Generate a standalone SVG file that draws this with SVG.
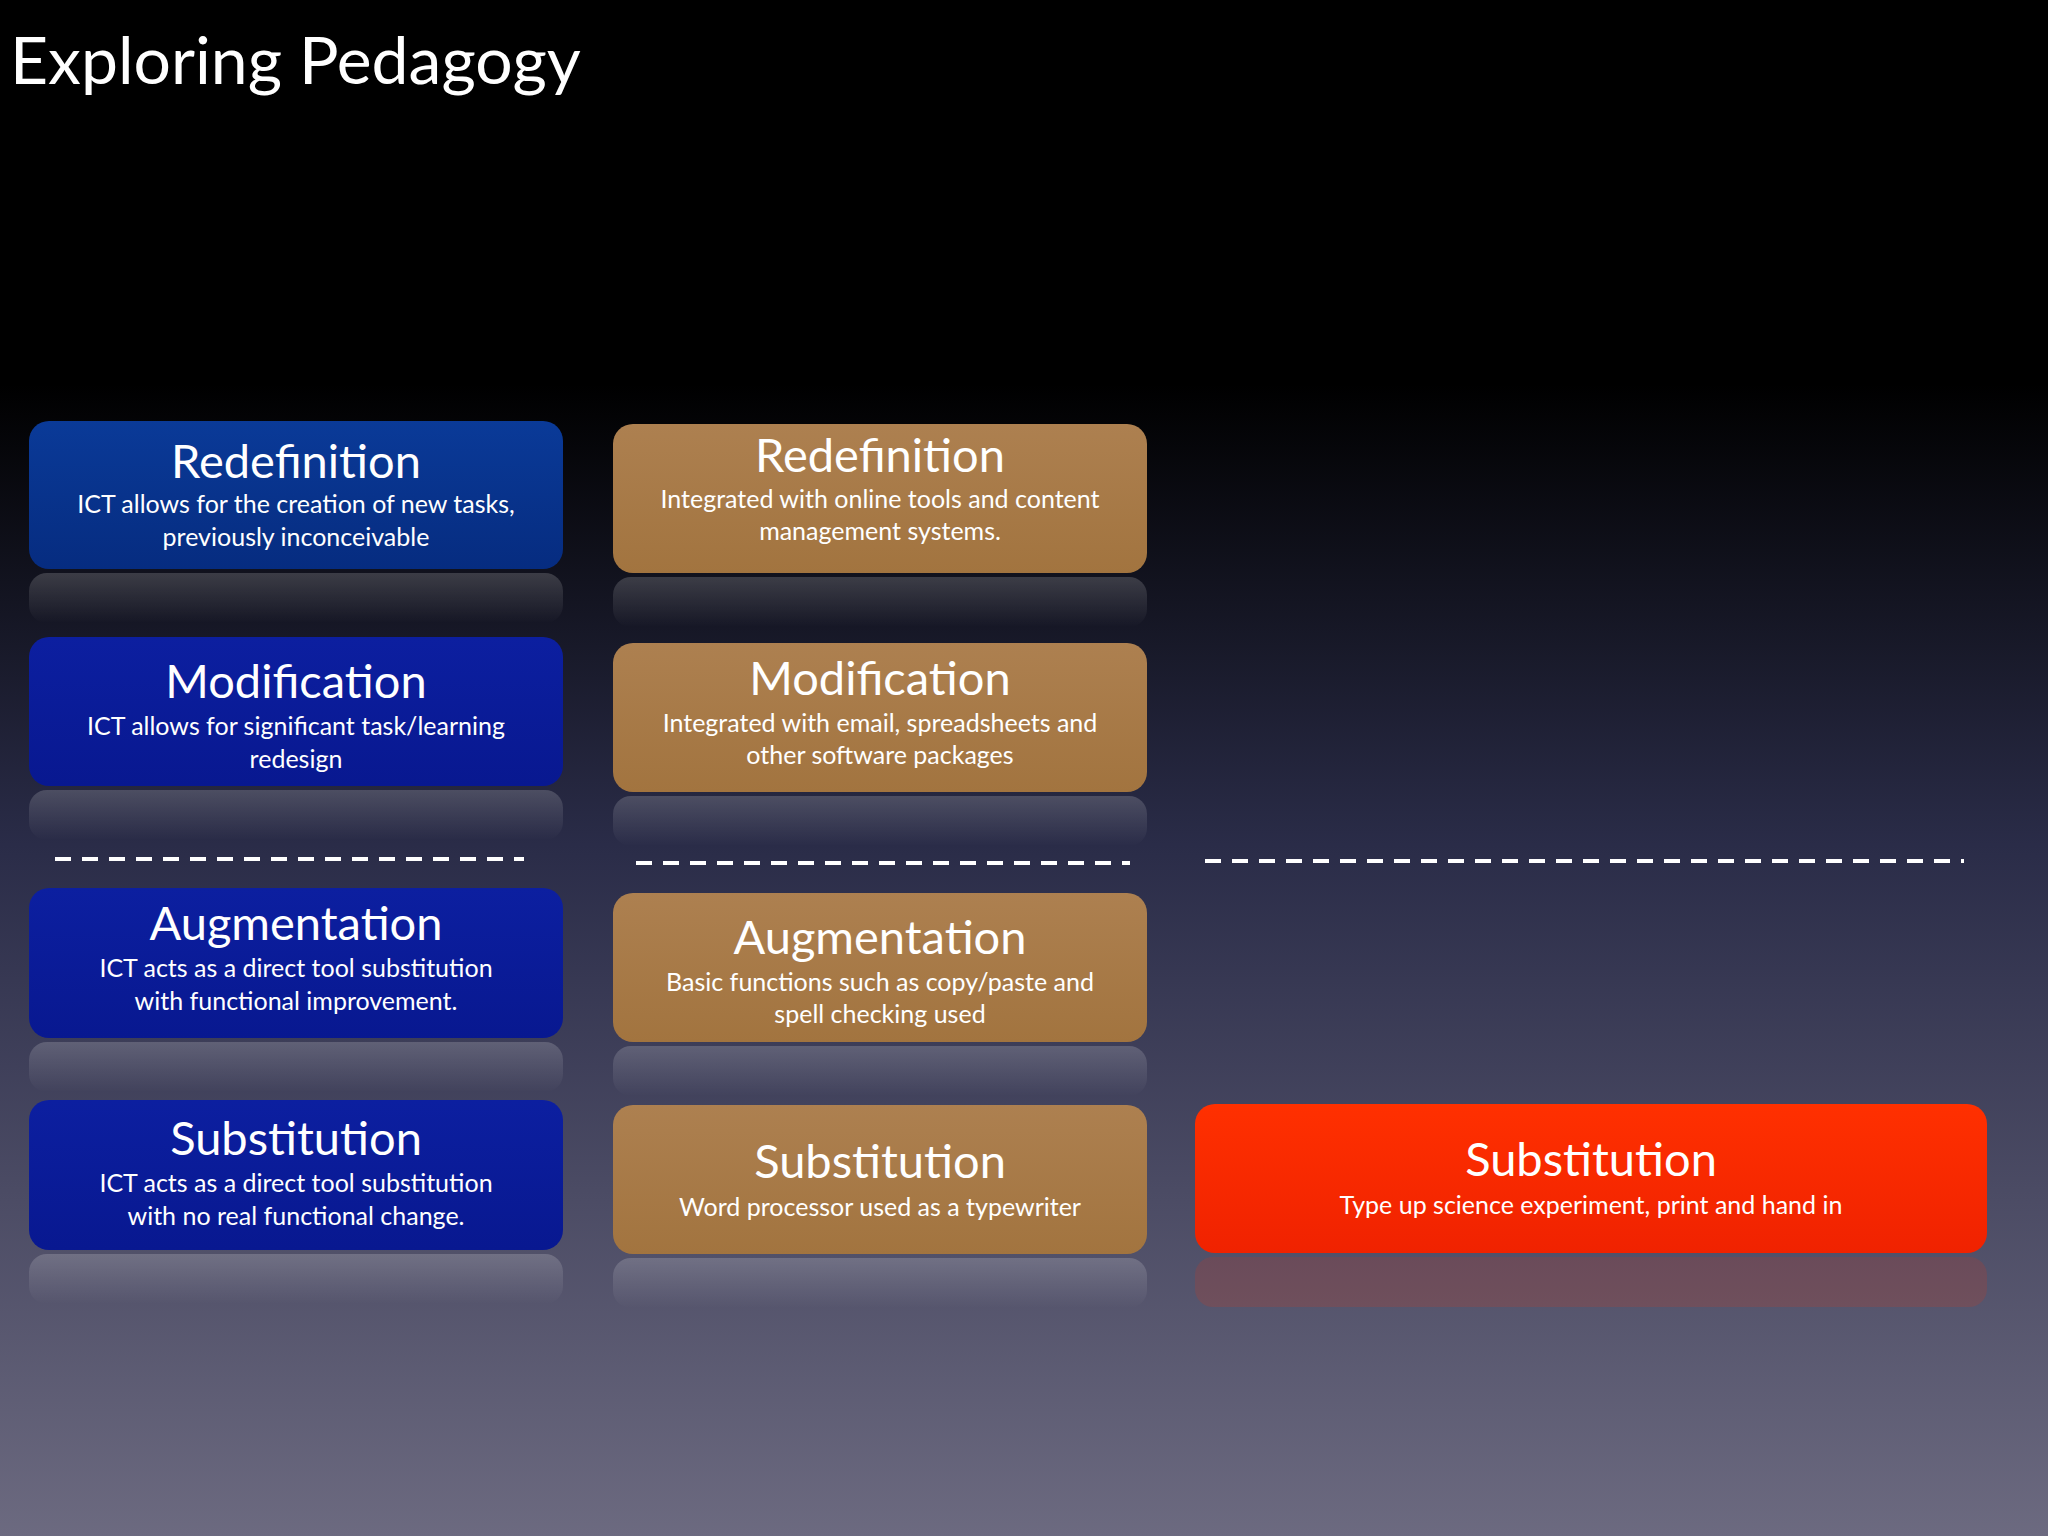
<svg xmlns="http://www.w3.org/2000/svg" width="2048" height="1536" viewBox="0 0 2048 1536">
<defs>
<linearGradient id="bg" x1="0" y1="0" x2="0" y2="1">
<stop offset="0" stop-color="#000"/><stop offset="0.25" stop-color="#000"/><stop offset="0.55" stop-color="#2a2c48"/><stop offset="1" stop-color="#6c6a80"/>
</linearGradient>
<linearGradient id="refl" x1="0" y1="0" x2="0" y2="1">
<stop offset="0" stop-color="#fff" stop-opacity="0.18"/><stop offset="1" stop-color="#fff" stop-opacity="0"/>
</linearGradient>
<linearGradient id="blue1" x1="0" y1="0" x2="0" y2="1"><stop offset="0" stop-color="#0a3a98"/><stop offset="1" stop-color="#062c80"/></linearGradient>
<linearGradient id="blue" x1="0" y1="0" x2="0" y2="1"><stop offset="0" stop-color="#0c1fa0"/><stop offset="1" stop-color="#081890"/></linearGradient>
<linearGradient id="brown" x1="0" y1="0" x2="0" y2="1"><stop offset="0" stop-color="#ad8050"/><stop offset="1" stop-color="#a2743f"/></linearGradient>
<linearGradient id="red" x1="0" y1="0" x2="0" y2="1"><stop offset="0" stop-color="#ff3000"/><stop offset="1" stop-color="#f02200"/></linearGradient>
</defs>
<style>
text{font-family:Lato,"Open Sans","Liberation Sans",sans-serif;fill:#fff;text-anchor:middle}
.h{font-size:47px}
.s{font-size:25px}
.dash{stroke:#fff;stroke-width:4;stroke-dasharray:16 11;fill:none}
.rf{fill:url(#refl)}
</style>
<rect width="2048" height="1536" fill="url(#bg)"/>
<text x="10" y="84" style="font-size:66px;text-anchor:start">Exploring Pedagogy</text>

<g id="reflections">
<rect class="rf" x="29" y="573" width="534" height="50" rx="18"/>
<rect class="rf" x="29" y="790" width="534" height="50" rx="18"/>
<rect class="rf" x="29" y="1042" width="534" height="50" rx="18"/>
<rect class="rf" x="29" y="1254" width="534" height="50" rx="18"/>
<rect class="rf" x="613" y="577" width="534" height="50" rx="18"/>
<rect class="rf" x="613" y="796" width="534" height="50" rx="18"/>
<rect class="rf" x="613" y="1046" width="534" height="50" rx="18"/>
<rect class="rf" x="613" y="1258" width="534" height="50" rx="18"/>
<rect x="1195" y="1257" width="792" height="50" rx="18" fill="#ff3000" opacity="0.15"/>
</g>

<g id="connectors">
<line class="dash" x1="55" y1="859" x2="524" y2="859"/>
<line class="dash" x1="636" y1="863" x2="1130" y2="863"/>
<line class="dash" x1="1205" y1="861" x2="1964" y2="861"/>
</g>

<g id="blue-redefinition"><rect x="29" y="421" width="534" height="148" rx="20" fill="url(#blue1)"/>
<text class="h" x="296" y="478">Redefinition</text><text class="s" x="296" y="513">ICT allows for the creation of new tasks,</text><text class="s" x="296" y="546">previously inconceivable</text></g>
<g id="blue-modification"><rect x="29" y="637" width="534" height="149" rx="20" fill="url(#blue)"/>
<text class="h" x="296" y="698">Modification</text><text class="s" x="296" y="735">ICT allows for significant task/learning</text><text class="s" x="296" y="768">redesign</text></g>
<g id="blue-augmentation"><rect x="29" y="888" width="534" height="150" rx="20" fill="url(#blue)"/>
<text class="h" x="296" y="940">Augmentation</text><text class="s" x="296" y="977">ICT acts as a direct tool substitution</text><text class="s" x="296" y="1010">with functional improvement.</text></g>
<g id="blue-substitution"><rect x="29" y="1100" width="534" height="150" rx="20" fill="url(#blue)"/>
<text class="h" x="296" y="1155">Substitution</text><text class="s" x="296" y="1192">ICT acts as a direct tool substitution</text><text class="s" x="296" y="1225">with no real functional change.</text></g>

<g id="brown-redefinition"><rect x="613" y="424" width="534" height="149" rx="20" fill="url(#brown)"/>
<text class="h" x="880" y="472">Redefinition</text><text class="s" x="880" y="508">Integrated with online tools and content</text><text class="s" x="880" y="540">management systems.</text></g>
<g id="brown-modification"><rect x="613" y="643" width="534" height="149" rx="20" fill="url(#brown)"/>
<text class="h" x="880" y="695">Modification</text><text class="s" x="880" y="732">Integrated with email, spreadsheets and</text><text class="s" x="880" y="764">other software packages</text></g>
<g id="brown-augmentation"><rect x="613" y="893" width="534" height="149" rx="20" fill="url(#brown)"/>
<text class="h" x="880" y="954">Augmentation</text><text class="s" x="880" y="991">Basic functions such as copy/paste and</text><text class="s" x="880" y="1023">spell checking used</text></g>
<g id="brown-substitution"><rect x="613" y="1105" width="534" height="149" rx="20" fill="url(#brown)"/>
<text class="h" x="880" y="1178">Substitution</text><text class="s" x="880" y="1216">Word processor used as a typewriter</text></g>

<g id="red-substitution"><rect x="1195" y="1104" width="792" height="149" rx="20" fill="url(#red)"/>
<text class="h" x="1591" y="1176">Substitution</text><text class="s" x="1591" y="1214">Type up science experiment, print and hand in</text></g>
</svg>
